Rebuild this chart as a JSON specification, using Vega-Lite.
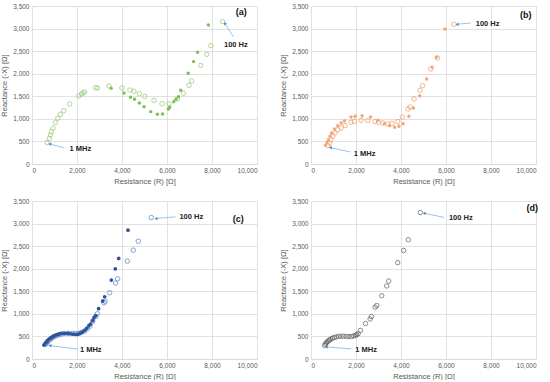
{
  "$schema": "https://vega.github.io/schema/vega-lite/v6.json",
  "padding": {"left": 0, "top": 3, "right": 4, "bottom": 0},
  "spacing": {"row": 13, "column": 22},
  "columns": 2,
  "config": {
    "font": "Liberation Sans",
    "view": {"stroke": null},
    "axis": {"labelFontSize": 6.5, "labelColor": "#595959", "titleFontSize": 7.5, "titleColor": "#595959", "titleFontWeight": "normal", "gridColor": "#d9d9d9", "gridWidth": 0.8, "ticks": false, "labelPadding": 3},
    "axisX": {"domainColor": "#d9d9d9", "titlePadding": 4},
    "axisY": {"domain": false, "titlePadding": 4}
  },
  "datasets": {
    "pts": [
      {"p":"a","s":"o","R":670,"X":475},{"p":"a","s":"o","R":770,"X":569},{"p":"a","s":"o","R":820,"X":643},{"p":"a","s":"o","R":860,"X":716},{"p":"a","s":"o","R":935,"X":790},{"p":"a","s":"o","R":1040,"X":916},{"p":"a","s":"o","R":1145,"X":1012},{"p":"a","s":"o","R":1260,"X":1100},{"p":"a","s":"o","R":1410,"X":1182},{"p":"a","s":"o","R":1680,"X":1330},{"p":"a","s":"o","R":2080,"X":1507},{"p":"a","s":"o","R":2200,"X":1551},{"p":"a","s":"o","R":2270,"X":1573},{"p":"a","s":"o","R":2330,"X":1595},{"p":"a","s":"o","R":2820,"X":1691},{"p":"a","s":"o","R":2910,"X":1684},{"p":"a","s":"o","R":3420,"X":1728},{"p":"a","s":"o","R":4000,"X":1684},{"p":"a","s":"o","R":4350,"X":1640},{"p":"a","s":"o","R":4530,"X":1610},{"p":"a","s":"o","R":4770,"X":1558},{"p":"a","s":"o","R":5010,"X":1499},{"p":"a","s":"o","R":5420,"X":1410},{"p":"a","s":"o","R":5780,"X":1337},{"p":"a","s":"o","R":6080,"X":1337},{"p":"a","s":"o","R":6460,"X":1440},{"p":"a","s":"o","R":6730,"X":1566},{"p":"a","s":"o","R":6980,"X":1743},{"p":"a","s":"o","R":7090,"X":1839},{"p":"a","s":"o","R":7500,"X":2186},{"p":"a","s":"o","R":7770,"X":2430},{"p":"a","s":"o","R":7950,"X":2622},{"p":"a","s":"o","R":8470,"X":3154},
      {"p":"a","s":"f","R":3520,"X":1680},{"p":"a","s":"f","R":4090,"X":1573},{"p":"a","s":"f","R":4380,"X":1477},{"p":"a","s":"f","R":4560,"X":1433},{"p":"a","s":"f","R":4770,"X":1352},{"p":"a","s":"f","R":4980,"X":1270},{"p":"a","s":"f","R":5280,"X":1160},{"p":"a","s":"f","R":5570,"X":1100},{"p":"a","s":"f","R":5800,"X":1108},{"p":"a","s":"f","R":6060,"X":1219},{"p":"a","s":"f","R":6120,"X":1256},{"p":"a","s":"f","R":6300,"X":1381},{"p":"a","s":"f","R":6400,"X":1433},{"p":"a","s":"f","R":6510,"X":1492},{"p":"a","s":"f","R":6610,"X":1632},{"p":"a","s":"f","R":6940,"X":2009},{"p":"a","s":"f","R":7180,"X":2268},{"p":"a","s":"f","R":7360,"X":2474},{"p":"a","s":"f","R":7840,"X":3080},
      {"p":"b","s":"o","R":740,"X":410},{"p":"b","s":"o","R":820,"X":465},{"p":"b","s":"o","R":890,"X":540},{"p":"b","s":"o","R":965,"X":613},{"p":"b","s":"o","R":1070,"X":687},{"p":"b","s":"o","R":1190,"X":760},{"p":"b","s":"o","R":1340,"X":800},{"p":"b","s":"o","R":1515,"X":850},{"p":"b","s":"o","R":1780,"X":923},{"p":"b","s":"o","R":1930,"X":945},{"p":"b","s":"o","R":2230,"X":967},{"p":"b","s":"o","R":2530,"X":960},{"p":"b","s":"o","R":2850,"X":938},{"p":"b","s":"o","R":3000,"X":923},{"p":"b","s":"o","R":3195,"X":908},{"p":"b","s":"o","R":3420,"X":886},{"p":"b","s":"o","R":3600,"X":900},{"p":"b","s":"o","R":3860,"X":938},{"p":"b","s":"o","R":4060,"X":1041},{"p":"b","s":"o","R":4310,"X":1219},{"p":"b","s":"o","R":4400,"X":1263},{"p":"b","s":"o","R":4580,"X":1440},{"p":"b","s":"o","R":4845,"X":1632},{"p":"b","s":"o","R":4960,"X":1736},{"p":"b","s":"o","R":5320,"X":2105},{"p":"b","s":"o","R":5620,"X":2349},{"p":"b","s":"o","R":6360,"X":3095},
      {"p":"b","s":"f","R":640,"X":414},{"p":"b","s":"f","R":715,"X":480},{"p":"b","s":"f","R":773,"X":540},{"p":"b","s":"f","R":847,"X":613},{"p":"b","s":"f","R":920,"X":687},{"p":"b","s":"f","R":1040,"X":775},{"p":"b","s":"f","R":1190,"X":850},{"p":"b","s":"f","R":1340,"X":908},{"p":"b","s":"f","R":1486,"X":960},{"p":"b","s":"f","R":1780,"X":1041},{"p":"b","s":"f","R":1960,"X":1056},{"p":"b","s":"f","R":2270,"X":1071},{"p":"b","s":"f","R":2645,"X":1041},{"p":"b","s":"f","R":2970,"X":967},{"p":"b","s":"f","R":3270,"X":893},{"p":"b","s":"f","R":3490,"X":850},{"p":"b","s":"f","R":3715,"X":812},{"p":"b","s":"f","R":3910,"X":835},{"p":"b","s":"f","R":4090,"X":893},{"p":"b","s":"f","R":4350,"X":1056},{"p":"b","s":"f","R":4550,"X":1241},{"p":"b","s":"f","R":4830,"X":1514},{"p":"b","s":"f","R":5140,"X":1884},{"p":"b","s":"f","R":5380,"X":2142},{"p":"b","s":"f","R":5570,"X":2364},{"p":"b","s":"f","R":5950,"X":2991},
      {"p":"c","s":"f","R":530,"X":310},{"p":"c","s":"f","R":580,"X":340},{"p":"c","s":"f","R":630,"X":370},{"p":"c","s":"f","R":680,"X":400},{"p":"c","s":"f","R":740,"X":430},{"p":"c","s":"f","R":800,"X":455},{"p":"c","s":"f","R":870,"X":480},{"p":"c","s":"f","R":950,"X":505},{"p":"c","s":"f","R":1030,"X":525},{"p":"c","s":"f","R":1120,"X":540},{"p":"c","s":"f","R":1220,"X":555},{"p":"c","s":"f","R":1330,"X":565},{"p":"c","s":"f","R":1450,"X":570},{"p":"c","s":"f","R":1580,"X":568},{"p":"c","s":"f","R":1700,"X":560},{"p":"c","s":"f","R":1820,"X":550},{"p":"c","s":"f","R":1930,"X":545},{"p":"c","s":"f","R":2030,"X":548},{"p":"c","s":"f","R":2130,"X":565},{"p":"c","s":"f","R":2230,"X":595},{"p":"c","s":"f","R":2330,"X":630},{"p":"c","s":"f","R":2430,"X":680},{"p":"c","s":"f","R":2530,"X":740},{"p":"c","s":"f","R":2600,"X":770},{"p":"c","s":"f","R":2700,"X":850},{"p":"c","s":"f","R":2755,"X":915},{"p":"c","s":"f","R":2830,"X":960},{"p":"c","s":"f","R":2960,"X":1114},{"p":"c","s":"f","R":3140,"X":1283},{"p":"c","s":"f","R":3229,"X":1379},{"p":"c","s":"f","R":3525,"X":1748},{"p":"c","s":"f","R":3703,"X":1998},{"p":"c","s":"f","R":3851,"X":2227},{"p":"c","s":"f","R":4265,"X":2854},
      {"p":"c","s":"o","R":600,"X":325},{"p":"c","s":"o","R":650,"X":355},{"p":"c","s":"o","R":700,"X":385},{"p":"c","s":"o","R":760,"X":415},{"p":"c","s":"o","R":830,"X":445},{"p":"c","s":"o","R":900,"X":470},{"p":"c","s":"o","R":980,"X":495},{"p":"c","s":"o","R":1070,"X":515},{"p":"c","s":"o","R":1170,"X":535},{"p":"c","s":"o","R":1280,"X":550},{"p":"c","s":"o","R":1420,"X":560},{"p":"c","s":"o","R":1600,"X":568},{"p":"c","s":"o","R":1790,"X":568},{"p":"c","s":"o","R":1950,"X":566},{"p":"c","s":"o","R":2090,"X":568},{"p":"c","s":"o","R":2200,"X":590},{"p":"c","s":"o","R":2340,"X":620},{"p":"c","s":"o","R":2460,"X":670},{"p":"c","s":"o","R":2577,"X":730},{"p":"c","s":"o","R":2696,"X":840},{"p":"c","s":"o","R":2830,"X":940},{"p":"c","s":"o","R":2900,"X":1003},{"p":"c","s":"o","R":3200,"X":1246},{"p":"c","s":"o","R":3250,"X":1280},{"p":"c","s":"o","R":3450,"X":1468},{"p":"c","s":"o","R":3718,"X":1681},{"p":"c","s":"o","R":3807,"X":1777},{"p":"c","s":"o","R":4236,"X":2168},{"p":"c","s":"o","R":4502,"X":2411},{"p":"c","s":"o","R":4725,"X":2610},{"p":"c","s":"o","R":5302,"X":3134},
      {"p":"d","s":"o","R":600,"X":300},{"p":"d","s":"o","R":640,"X":330},{"p":"d","s":"o","R":680,"X":355},{"p":"d","s":"o","R":720,"X":380},{"p":"d","s":"o","R":770,"X":400},{"p":"d","s":"o","R":820,"X":420},{"p":"d","s":"o","R":880,"X":440},{"p":"d","s":"o","R":950,"X":460},{"p":"d","s":"o","R":1030,"X":475},{"p":"d","s":"o","R":1120,"X":490},{"p":"d","s":"o","R":1220,"X":500},{"p":"d","s":"o","R":1330,"X":505},{"p":"d","s":"o","R":1450,"X":505},{"p":"d","s":"o","R":1570,"X":500},{"p":"d","s":"o","R":1690,"X":498},{"p":"d","s":"o","R":1800,"X":500},{"p":"d","s":"o","R":1900,"X":510},{"p":"d","s":"o","R":1980,"X":525},{"p":"d","s":"o","R":2030,"X":540},{"p":"d","s":"o","R":2095,"X":560},{"p":"d","s":"o","R":2200,"X":632},{"p":"d","s":"o","R":2420,"X":786},{"p":"d","s":"o","R":2627,"X":885},{"p":"d","s":"o","R":2686,"X":940},{"p":"d","s":"o","R":2850,"X":1148},{"p":"d","s":"o","R":2922,"X":1186},{"p":"d","s":"o","R":3144,"X":1402},{"p":"d","s":"o","R":3366,"X":1618},{"p":"d","s":"o","R":3454,"X":1726},{"p":"d","s":"o","R":3853,"X":2134},{"p":"d","s":"o","R":4119,"X":2404},{"p":"d","s":"o","R":4325,"X":2642},{"p":"d","s":"o","R":4857,"X":3244}
    ],
    "arrows": [
      {"p":"a","f":"1 MHz","R":1410,"X":362,"R2":790,"X2":443},
      {"p":"a","f":"100 Hz","R":8945,"X":2820,"R2":8570,"X2":3117},
      {"p":"b","f":"1 MHz","R":1750,"X":266,"R2":860,"X2":362},
      {"p":"b","f":"100 Hz","R":7100,"X":3124,"R2":6490,"X2":3095},
      {"p":"c","f":"1 MHz","R":2040,"X":221,"R2":800,"X2":295},
      {"p":"c","f":"100 Hz","R":6380,"X":3149,"R2":5510,"X2":3112},
      {"p":"d","f":"1 MHz","R":1785,"X":223,"R2":680,"X2":270},
      {"p":"d","f":"100 Hz","R":5920,"X":3136,"R2":5030,"X2":3228}
    ],
    "labels": [
      {"p":"a","t":"1 MHz","R":2150,"X":325,"k":"n"},{"p":"a","t":"100 Hz","R":9060,"X":2637,"k":"n"},{"p":"a","t":"(a)","R":9300,"X":3375,"k":"p"},
      {"p":"b","t":"1 MHz","R":2380,"X":222,"k":"n"},{"p":"b","t":"100 Hz","R":7850,"X":3109,"k":"n"},{"p":"b","t":"(b)","R":9540,"X":3294,"k":"p"},
      {"p":"c","t":"1 MHz","R":2610,"X":192,"k":"n"},{"p":"c","t":"100 Hz","R":7080,"X":3149,"k":"n"},{"p":"c","t":"(c)","R":9170,"X":3097,"k":"p"},
      {"p":"d","t":"1 MHz","R":2450,"X":208,"k":"n"},{"p":"d","t":"100 Hz","R":6657,"X":3120,"k":"n"},{"p":"d","t":"(d)","R":9830,"X":3344,"k":"p"}
    ]
  },
  "concat": [
    {
      "width": 225, "height": 158,
      "encoding": {
        "x": {"field": "R", "type": "quantitative", "scale": {"domain": [0, 10000], "nice": false}, "axis": {"values": [0,2000,4000,6000,8000,10000], "format": ",.0f", "title": "Resistance  (R) [Ω]"}},
        "y": {"field": "X", "type": "quantitative", "scale": {"domain": [0, 3500], "nice": false}, "axis": {"values": [0,500,1000,1500,2000,2500,3000,3500], "format": ",.0f", "title": "Reactance (-X) [Ω]"}}
      },
      "layer": [
        {"data": {"name": "pts"}, "transform": [{"filter": "datum.p=='a' && datum.s=='o'"}], "mark": {"type": "point", "filled": false, "shape": "circle", "size": 20, "strokeWidth": 1, "color": "#8fc870"}},
        {"data": {"name": "pts"}, "transform": [{"filter": "datum.p=='a' && datum.s=='f'"}], "mark": {"type": "circle", "size": 12, "color": "#7cbf57", "opacity": 1}},
        {"data": {"name": "arrows"}, "transform": [{"filter": "datum.p=='a'"}], "mark": {"type": "rule", "color": "#9dc3e6", "strokeWidth": 1}, "encoding": {"x2": {"field": "R2"}, "y2": {"field": "X2"}}},
        {"data": {"name": "arrows"}, "transform": [{"filter": "datum.p=='a' && datum.f=='1 MHz'"}], "mark": {"type": "point", "shape": "triangle-left", "filled": true, "size": 12, "color": "#4a8fd6", "opacity": 1, "angle": 12}, "encoding": {"x": {"field": "R2", "type": "quantitative"}, "y": {"field": "X2", "type": "quantitative"}}},
        {"data": {"name": "arrows"}, "transform": [{"filter": "datum.p=='a' && datum.f=='100 Hz'"}], "mark": {"type": "point", "shape": "triangle-left", "filled": true, "size": 12, "color": "#4a8fd6", "opacity": 1, "angle": 58}, "encoding": {"x": {"field": "R2", "type": "quantitative"}, "y": {"field": "X2", "type": "quantitative"}}},
        {"data": {"name": "labels"}, "transform": [{"filter": "datum.p=='a' && datum.k=='n'"}], "mark": {"type": "text", "fontWeight": "bold", "fontSize": 7.5, "color": "#222222"}, "encoding": {"text": {"field": "t"}}},
        {"data": {"name": "labels"}, "transform": [{"filter": "datum.p=='a' && datum.k=='p'"}], "mark": {"type": "text", "fontWeight": "bold", "fontSize": 9, "color": "#111111"}, "encoding": {"text": {"field": "t"}}}
      ]
    },
    {
      "width": 225, "height": 158,
      "encoding": {
        "x": {"field": "R", "type": "quantitative", "scale": {"domain": [0, 10000], "nice": false}, "axis": {"values": [0,2000,4000,6000,8000,10000], "format": ",.0f", "title": "Resistance  (R) [Ω]"}},
        "y": {"field": "X", "type": "quantitative", "scale": {"domain": [0, 3500], "nice": false}, "axis": {"values": [0,500,1000,1500,2000,2500,3000,3500], "format": ",.0f", "title": "Reactance (-X) [Ω]"}}
      },
      "layer": [
        {"data": {"name": "pts"}, "transform": [{"filter": "datum.p=='b' && datum.s=='o'"}], "mark": {"type": "point", "filled": false, "shape": "circle", "size": 20, "strokeWidth": 1, "color": "#f0965e"}},
        {"data": {"name": "pts"}, "transform": [{"filter": "datum.p=='b' && datum.s=='f'"}], "mark": {"type": "circle", "size": 12, "color": "#f4a67a", "opacity": 1}},
        {"data": {"name": "arrows"}, "transform": [{"filter": "datum.p=='b'"}], "mark": {"type": "rule", "color": "#9dc3e6", "strokeWidth": 1}, "encoding": {"x2": {"field": "R2"}, "y2": {"field": "X2"}}},
        {"data": {"name": "arrows"}, "transform": [{"filter": "datum.p=='b'"}], "mark": {"type": "point", "shape": "triangle-left", "filled": true, "size": 12, "color": "#4a8fd6", "opacity": 1, "angle": 5}, "encoding": {"x": {"field": "R2", "type": "quantitative"}, "y": {"field": "X2", "type": "quantitative"}}},
        {"data": {"name": "labels"}, "transform": [{"filter": "datum.p=='b' && datum.k=='n'"}], "mark": {"type": "text", "fontWeight": "bold", "fontSize": 7.5, "color": "#222222"}, "encoding": {"text": {"field": "t"}}},
        {"data": {"name": "labels"}, "transform": [{"filter": "datum.p=='b' && datum.k=='p'"}], "mark": {"type": "text", "fontWeight": "bold", "fontSize": 9, "color": "#111111"}, "encoding": {"text": {"field": "t"}}}
      ]
    },
    {
      "width": 225, "height": 158,
      "encoding": {
        "x": {"field": "R", "type": "quantitative", "scale": {"domain": [0, 10000], "nice": false}, "axis": {"values": [0,2000,4000,6000,8000,10000], "format": ",.0f", "title": "Resistance  (R) [Ω]"}},
        "y": {"field": "X", "type": "quantitative", "scale": {"domain": [0, 3500], "nice": false}, "axis": {"values": [0,500,1000,1500,2000,2500,3000,3500], "format": ",.0f", "title": "Reactance (-X) [Ω]"}}
      },
      "layer": [
        {"data": {"name": "pts"}, "transform": [{"filter": "datum.p=='c' && datum.s=='o'"}], "mark": {"type": "point", "filled": false, "shape": "circle", "size": 20, "strokeWidth": 1, "color": "#4a7cc9"}},
        {"data": {"name": "pts"}, "transform": [{"filter": "datum.p=='c' && datum.s=='f'"}], "mark": {"type": "circle", "size": 14, "color": "#2f5597", "opacity": 1}},
        {"data": {"name": "arrows"}, "transform": [{"filter": "datum.p=='c'"}], "mark": {"type": "rule", "color": "#9dc3e6", "strokeWidth": 1}, "encoding": {"x2": {"field": "R2"}, "y2": {"field": "X2"}}},
        {"data": {"name": "arrows"}, "transform": [{"filter": "datum.p=='c'"}], "mark": {"type": "point", "shape": "triangle-left", "filled": true, "size": 12, "color": "#4a8fd6", "opacity": 1, "angle": 5}, "encoding": {"x": {"field": "R2", "type": "quantitative"}, "y": {"field": "X2", "type": "quantitative"}}},
        {"data": {"name": "labels"}, "transform": [{"filter": "datum.p=='c' && datum.k=='n'"}], "mark": {"type": "text", "fontWeight": "bold", "fontSize": 7.5, "color": "#222222"}, "encoding": {"text": {"field": "t"}}},
        {"data": {"name": "labels"}, "transform": [{"filter": "datum.p=='c' && datum.k=='p'"}], "mark": {"type": "text", "fontWeight": "bold", "fontSize": 9, "color": "#111111"}, "encoding": {"text": {"field": "t"}}}
      ]
    },
    {
      "width": 225, "height": 158,
      "encoding": {
        "x": {"field": "R", "type": "quantitative", "scale": {"domain": [0, 10000], "nice": false}, "axis": {"values": [0,2000,4000,6000,8000,10000], "format": ",.0f", "title": "Resistance  (R) [Ω]"}},
        "y": {"field": "X", "type": "quantitative", "scale": {"domain": [0, 3500], "nice": false}, "axis": {"values": [0,500,1000,1500,2000,2500,3000,3500], "format": ",.0f", "title": "Reactance (-X) [Ω]"}}
      },
      "layer": [
        {"data": {"name": "pts"}, "transform": [{"filter": "datum.p=='d' && datum.s=='o'"}], "mark": {"type": "point", "filled": false, "shape": "circle", "size": 20, "strokeWidth": 1, "color": "#595959"}},
        {"data": {"name": "arrows"}, "transform": [{"filter": "datum.p=='d'"}], "mark": {"type": "rule", "color": "#9dc3e6", "strokeWidth": 1}, "encoding": {"x2": {"field": "R2"}, "y2": {"field": "X2"}}},
        {"data": {"name": "arrows"}, "transform": [{"filter": "datum.p=='d'"}], "mark": {"type": "point", "shape": "triangle-left", "filled": true, "size": 12, "color": "#4a8fd6", "opacity": 1, "angle": 8}, "encoding": {"x": {"field": "R2", "type": "quantitative"}, "y": {"field": "X2", "type": "quantitative"}}},
        {"data": {"name": "labels"}, "transform": [{"filter": "datum.p=='d' && datum.k=='n'"}], "mark": {"type": "text", "fontWeight": "bold", "fontSize": 7.5, "color": "#222222"}, "encoding": {"text": {"field": "t"}}},
        {"data": {"name": "labels"}, "transform": [{"filter": "datum.p=='d' && datum.k=='p'"}], "mark": {"type": "text", "fontWeight": "bold", "fontSize": 9, "color": "#111111"}, "encoding": {"text": {"field": "t"}}}
      ]
    }
  ]
}
